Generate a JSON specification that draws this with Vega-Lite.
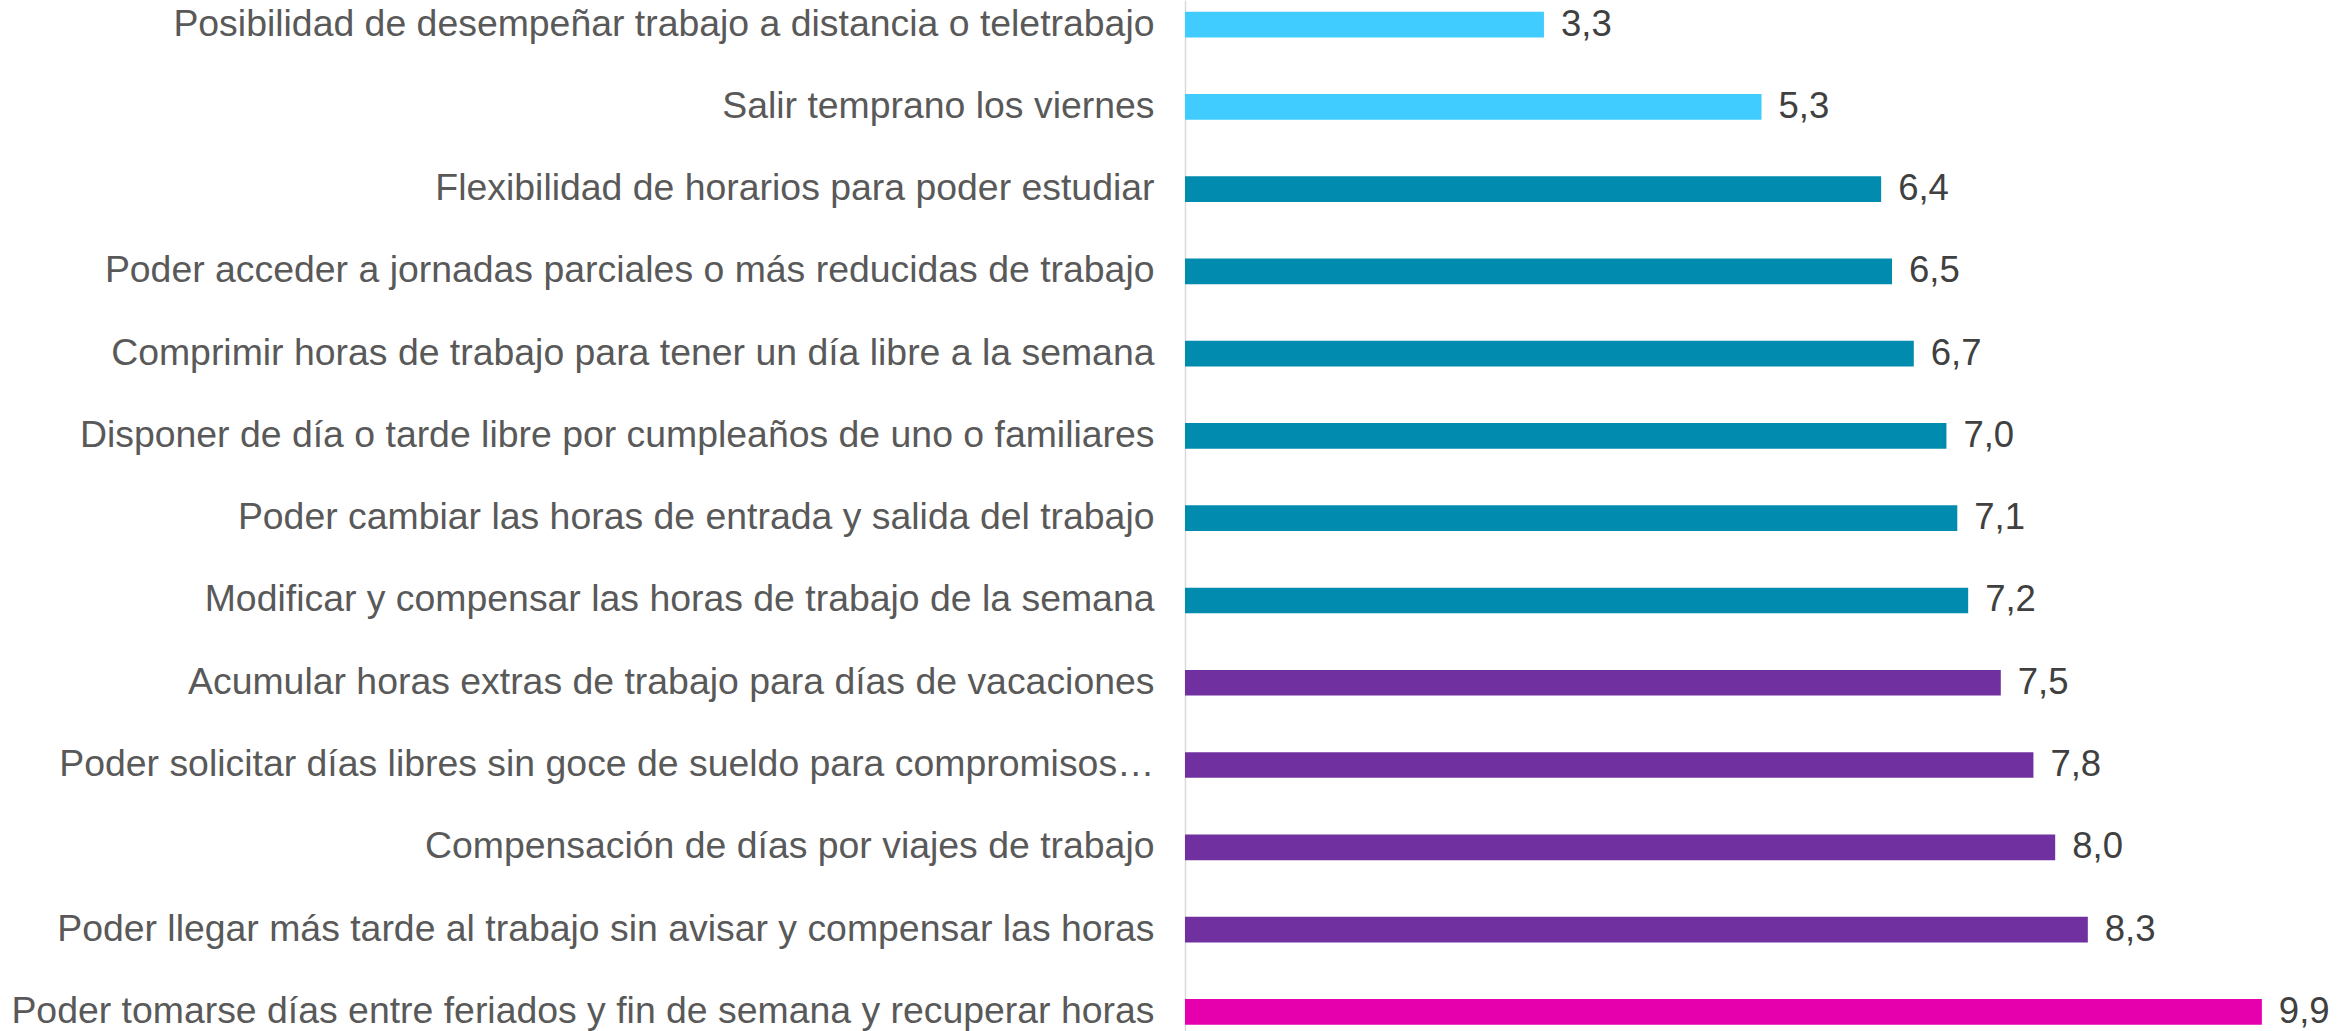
{
  "$schema": "https://vega.github.io/schema/vega-lite/v6.json",
  "autosize": {"type": "none"},
  "padding": {"left": 1185, "top": 0, "right": 10, "bottom": 0},
  "width": 1153,
  "height": 1031,
  "config": {
    "view": {"stroke": null},
    "locale": {"number": {"decimal": ",", "thousands": ".", "grouping": [3], "currency": ["", " €"]}}
  },
  "data": {
    "values": [
      {"item": "Posibilidad de desempeñar trabajo a distancia o teletrabajo", "valor": 3.3, "grupo": "a"},
      {"item": "Salir temprano los viernes", "valor": 5.3, "grupo": "a"},
      {"item": "Flexibilidad de horarios para poder estudiar", "valor": 6.4, "grupo": "b"},
      {"item": "Poder acceder a jornadas parciales o más reducidas de trabajo", "valor": 6.5, "grupo": "b"},
      {"item": "Comprimir horas de trabajo para tener un día libre a la semana", "valor": 6.7, "grupo": "b"},
      {"item": "Disponer de día o tarde libre por cumpleaños de uno o familiares", "valor": 7.0, "grupo": "b"},
      {"item": "Poder cambiar las horas de entrada y salida del trabajo", "valor": 7.1, "grupo": "b"},
      {"item": "Modificar y compensar las horas de trabajo de la semana", "valor": 7.2, "grupo": "b"},
      {"item": "Acumular horas extras de trabajo para días de vacaciones", "valor": 7.5, "grupo": "c"},
      {"item": "Poder solicitar días libres sin goce de sueldo para compromisos…", "valor": 7.8, "grupo": "c"},
      {"item": "Compensación de días por viajes de trabajo", "valor": 8.0, "grupo": "c"},
      {"item": "Poder llegar más tarde al trabajo sin avisar y compensar las horas", "valor": 8.3, "grupo": "c"},
      {"item": "Poder tomarse días entre feriados y fin de semana y recuperar horas", "valor": 9.9, "grupo": "d"}
    ]
  },
  "encoding": {
    "y": {
      "field": "item",
      "type": "nominal",
      "sort": null,
      "scale": {"paddingInner": 0.6876, "paddingOuter": 0.11, "align": 0.65},
      "axis": {
        "title": null,
        "ticks": false,
        "domain": true,
        "domainColor": "#d9d9d9",
        "domainWidth": 1.5,
        "labelFont": "Liberation Sans",
        "labelFontSize": 37.4,
        "labelColor": "#595959",
        "labelPadding": 31,
        "labelLimit": 1300
      }
    },
    "x": {
      "field": "valor",
      "type": "quantitative",
      "scale": {"domain": [0, 10.6]},
      "axis": null
    }
  },
  "layer": [
    {
      "mark": {"type": "bar"},
      "encoding": {
        "color": {
          "field": "grupo",
          "type": "nominal",
          "scale": {"domain": ["a", "b", "c", "d"], "range": ["#40CCFF", "#008BAF", "#7030A0", "#E600AD"]},
          "legend": null
        }
      }
    },
    {
      "mark": {"type": "text", "align": "left", "baseline": "middle", "dx": 17, "font": "Liberation Sans", "fontSize": 36.5, "color": "#404040"},
      "encoding": {
        "text": {"field": "valor", "type": "quantitative", "format": ".1f"}
      }
    }
  ]
}
